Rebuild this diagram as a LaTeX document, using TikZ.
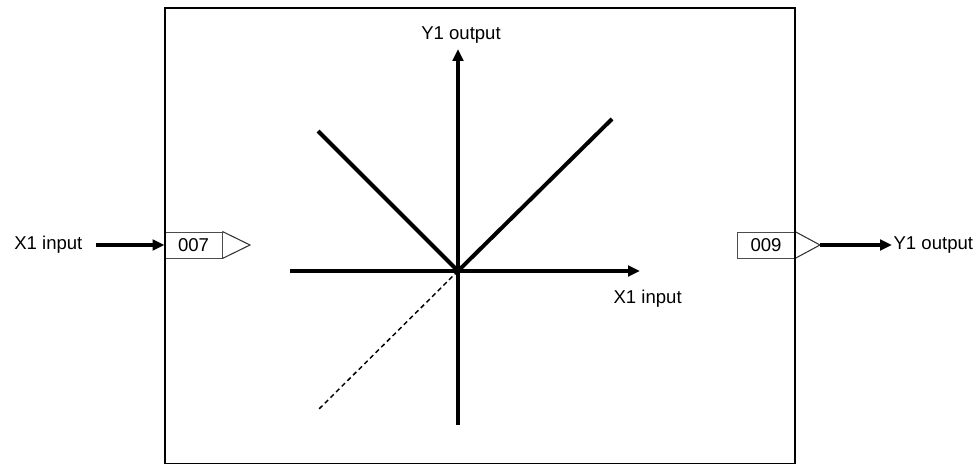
\documentclass[tikz,border=0pt]{standalone}
\usepackage{fontspec}
\setmainfont{Liberation Sans}
\usetikzlibrary{positioning, arrows.meta, calc}
\tikzset{
  lbl/.style={font=\fontsize{14}{16}\selectfont, inner sep=1pt},
  port/.style={draw, gray!60!black, line width=0.7pt, minimum width=57*0.0265cm, minimum height=26*0.0265cm, inner sep=0pt, text=black, font=\fontsize{14}{16}\selectfont},
  axis/.style={line width=2.4pt, -{Triangle[length=9pt,width=8pt]}},
  curve/.style={line width=3pt},
  feed/.style={line width=3.3pt, -{Triangle[length=9pt,width=8pt]}}
}
\begin{document}
\begin{tikzpicture}[x=0.0265cm, y=-0.0265cm]
  \useasboundingbox (0,0) rectangle (978,464);
  % Function block
  \draw[line width=1.5pt] (165,8) -- (795,8) -- (795,464) -- (165,464) -- cycle;

  % Axes
  \coordinate (o) at (458,271);
  \coordinate (xl) at (290,271);
  \coordinate (xr) at (640,271);
  \coordinate (yb) at (458,425);
  \coordinate (yt) at (458,49);
  \draw[axis] (xl) -- (xr);
  \draw[axis] (yb) -- (yt);
  \node[lbl] (ylab) at (461,35) {Y1 output};
  \node[lbl, anchor=west] (xlab) at (612,299) {X1 input};

  % Characteristic
  \coordinate (vl) at (318,131);
  \coordinate (vr) at (612,119);
  \coordinate (dl) at (318,410);
  \draw[curve] (vl) -- (o) -- (vr);
  \draw[line width=1.1pt, dash pattern=on 3.5pt off 2.5pt] (o) -- (dl);

  % Input port
  \node[port] (p007) at (193.5,245) {007};
  \coordinate (intip) at (250,245);
  \draw[black!80, line width=0.8pt] (p007.north east) -- (intip) -- (p007.south east);
  \node[lbl, anchor=east] (xin) at (84,245) {X1 input};
  \coordinate (xfrom) at (96,245);
  \draw[feed] (xfrom) -- (p007.west);

  % Output port
  \node[port] (p009) at (766,245) {009};
  \coordinate (outtip) at (820,245);
  \draw[black!80, line width=0.8pt] (p009.north east) -- (outtip) -- (p009.south east);
  \node[lbl, anchor=west] (yout) at (892,245) {Y1 output};
  \draw[feed] (outtip) -- (yout.west);

  % block edges over the ports
  \draw[line width=1.5pt] (165,8) -- (165,464);
  \draw[line width=1.5pt] (795,8) -- (795,464);
\end{tikzpicture}
\end{document}
